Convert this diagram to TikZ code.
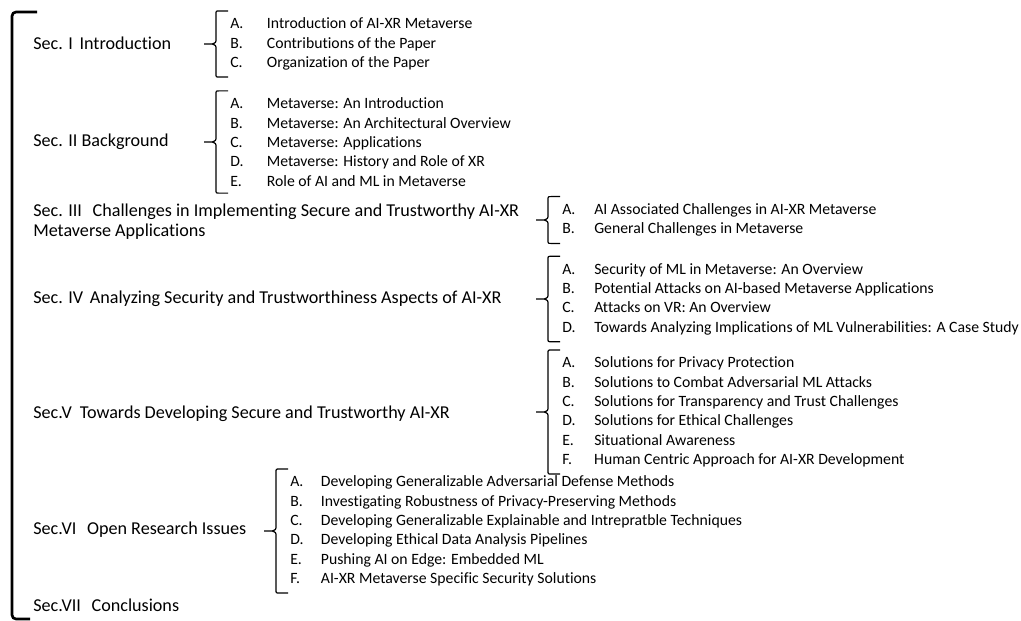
\documentclass[tikz,border=0pt]{standalone}
\usepackage{fontspec}
\setmainfont[Ligatures=NoCommon]{Carlito}
\usetikzlibrary{calc}

% letter column of a list entry
\newcommand{\li}[2][24pt]{\makebox[#1][l]{#2}}

% brace on the left side of a list node, tip pointing at its section
\newcommand{\secbrace}[1]{%
	\draw[bline] let \p1=(#1.north west), \p2=(#1.south west), \p3=(#1.west) in
	(\x1-1.5pt,\y1) -- (\x1-8pt,\y1) .. controls (\x1-10.5pt,\y1) .. (\x1-10.5pt,\y1-2.5pt)
	-- (\x1-10.5pt,\y3+4pt) .. controls (\x1-10.5pt,\y3+1pt) .. (\x1-13.5pt,\y3) -- (\x1-19.5pt,\y3)
	(\x1-13.5pt,\y3) .. controls (\x1-10.5pt,\y3-1pt) .. (\x1-10.5pt,\y3-4pt)
	-- (\x1-10.5pt,\y2+2.5pt) .. controls (\x1-10.5pt,\y2) .. (\x1-8pt,\y2) -- (\x1-1.5pt,\y2);}

\begin{document}
\begin{tikzpicture}
	[x=0.75pt, y=-0.75pt,
	sec/.style={anchor=west, inner sep=0pt, align=left, font=\fontsize{13.6}{15}\selectfont},
	list/.style={anchor=west, inner xsep=0pt, inner ysep=5pt, align=left, font=\fontsize{11.8}{14.5}\selectfont},
	bline/.style={line width=0.9pt},
	outer/.style={line width=2pt, rounded corners=3pt}]
	\useasboundingbox (0,0) rectangle (1021,621);

	% big bracket round all sections
	\draw[outer] (37,12) -- (12,12) -- (12,619) -- (30,619);

	% sections
	\node[sec] (s1) at (33,43) {Sec. I\hspace{5pt}Introduction};
	\node[sec] (s2) at (33,142) {Sec. II Background};
	\node[sec, anchor=north west] (s3) at (33,204) {Sec. III\hspace{8pt}Challenges in Implementing Secure and Trustworthy AI-XR\\Metaverse Applications};
	\node[sec] (s4) at (33,299) {Sec. IV\hspace{5pt}Analyzing Security and Trustworthiness Aspects of AI-XR};
	\node[sec] (s5) at (33,414) {Sec.V\hspace{6pt}Towards Developing Secure and Trustworthy AI-XR};
	\node[sec] (s6) at (33,530) {Sec.VI\hspace{8pt}Open Research Issues};
	\node[sec] (s7) at (33,605) {Sec.VII\hspace{8pt}Conclusions};

	% subsections
	\node[list] (l1) at (230,44) {\li[27.5pt]{A.}Introduction of AI-XR Metaverse\\
		\li[27.5pt]{B.}Contributions of the Paper\\
		\li[27.5pt]{C.}Organization of the Paper};
	\node[list] (l2) at (230,142) {\li[27.5pt]{A.}Metaverse: An Introduction\\
		\li[27.5pt]{B.}Metaverse: An Architectural Overview\\
		\li[27.5pt]{C.}Metaverse: Applications\\
		\li[27.5pt]{D.}Metaverse: History and Role of XR\\
		\li[27.5pt]{E.}Role of AI and ML in Metaverse};
	\node[list] (l3) at (562,220) {\li{A.}AI Associated Challenges in AI-XR Metaverse\\
		\li{B.}General Challenges in Metaverse};
	\node[list] (l4) at (562,299) {\li{A.}Security of ML in Metaverse: An Overview\\
		\li{B.}Potential Attacks on AI-based Metaverse Applications\\
		\li{C.}Attacks on VR: An Overview\\
		\li{D.}Towards Analyzing Implications of ML Vulnerabilities: A Case Study};
	\node[list] (l5) at (562,412) {\li{A.}Solutions for Privacy Protection\\
		\li{B.}Solutions to Combat Adversarial ML Attacks\\
		\li{C.}Solutions for Transparency and Trust Challenges\\
		\li{D.}Solutions for Ethical Challenges\\
		\li{E.}Situational Awareness\\
		\li{F.}Human Centric Approach for AI-XR Development};
	\node[list] (l6) at (290,531) {\li[23pt]{A.}Developing Generalizable Adversarial Defense Methods\\
		\li[23pt]{B.}Investigating Robustness of Privacy-Preserving Methods\\
		\li[23pt]{C.}Developing Generalizable Explainable and Intrepratble Techniques\\
		\li[23pt]{D.}Developing Ethical Data Analysis Pipelines\\
		\li[23pt]{E.}Pushing AI on Edge: Embedded ML\\
		\li[23pt]{F.}AI-XR Metaverse Specific Security Solutions};

	% braces
	\foreach \i in {1,...,6}{
		\secbrace{l\i}
	}
\end{tikzpicture}
\end{document}
